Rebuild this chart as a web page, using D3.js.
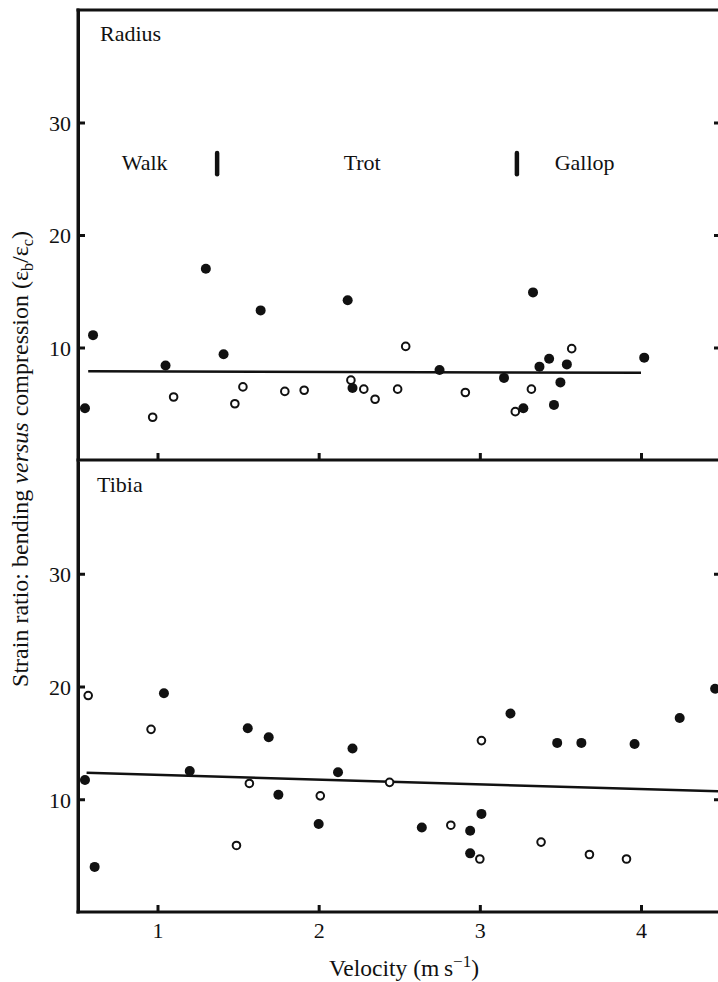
<!DOCTYPE html>
<html>
<head>
<meta charset="utf-8">
<script src="https://d3js.org/d3.v7.min.js"></script>
<style>
body { margin: 0; background: #fff; }
svg { display: block; }
text { font-family: "Liberation Serif", "Times New Roman", Times, serif; fill: #111; }
.axis path, .axis line { stroke: #111; stroke-width: 3; }
.axis text { font-size: 22px; font-family: "Liberation Serif", "Times New Roman", Times, serif; fill: #111; }
</style>
</head>
<body>
<script>
// velocity (m/s) and strain ratio values
var radiusFilledV = [0.55, 0.60, 1.05, 1.30, 1.41, 1.64, 2.18, 2.21, 2.75, 3.15, 3.27, 3.33, 3.37, 3.43, 3.46, 3.50, 3.54, 4.02];
var radiusFilledR = [4.6, 11.1, 8.4, 17.0, 9.4, 13.3, 14.2, 6.4, 8.0, 7.3, 4.6, 14.9, 8.3, 9.0, 4.9, 6.9, 8.5, 9.1];
var radiusOpenV = [0.97, 1.10, 1.48, 1.53, 1.79, 1.91, 2.20, 2.28, 2.35, 2.49, 2.54, 2.91, 3.22, 3.32, 3.57];
var radiusOpenR = [3.8, 5.6, 5.0, 6.5, 6.1, 6.2, 7.1, 6.3, 5.4, 6.3, 10.1, 6.0, 4.3, 6.3, 9.9];

var tibiaFilledV = [0.55, 0.61, 1.04, 1.20, 1.56, 1.69, 1.75, 2.00, 2.12, 2.21, 2.64, 2.94, 2.94, 3.01, 3.19, 3.48, 3.63, 3.96, 4.24, 4.46];
var tibiaFilledR = [11.7, 4.0, 19.4, 12.5, 16.3, 15.5, 10.4, 7.8, 12.4, 14.5, 7.5, 7.2, 5.2, 8.7, 17.6, 15.0, 15.0, 14.9, 17.2, 19.8];
var tibiaOpenV = [0.57, 0.96, 1.49, 1.57, 2.01, 2.44, 2.82, 3.00, 3.01, 3.38, 3.68, 3.91];
var tibiaOpenR = [19.2, 16.2, 5.9, 11.4, 10.3, 11.5, 7.7, 4.7, 15.2, 6.2, 5.1, 4.7];

// fitted lines: [v start, v end], [ratio start, ratio end]
var radiusFitV = [0.57, 4.0];
var radiusFitR = [7.9, 7.75];
var tibiaFitV = [0.56, 4.48];
var tibiaFitR = [12.35, 10.7];

// gait labels and boundaries
var gaitLabels = ["Walk", "Trot", "Gallop"];
var gaitLabelV = [0.92, 2.27, 3.65];
var gaitBreaksV = [1.37, 3.23];

var xTicks = [1, 2, 3, 4];
var yTicks = [10, 20, 30];

var W = 718, H = 982;
var left = 78, right = 720;

var svg = d3.select("body").append("svg")
  .attr("width", W)
  .attr("height", H);

var x = d3.scaleLinear().domain([1, 4]).range([157.5, 641]);

var panels = [
  { name: "Radius", top: 10, bottom: 460, fv: radiusFilledV, fr: radiusFilledR, ov: radiusOpenV, or: radiusOpenR, lv: radiusFitV, lr: radiusFitR, labelX: 100 },
  { name: "Tibia", top: 461, bottom: 912, fv: tibiaFilledV, fr: tibiaFilledR, ov: tibiaOpenV, or: tibiaOpenR, lv: tibiaFitV, lr: tibiaFitR, labelX: 97 }
];

panels.forEach(function(p, i) {
  var y = d3.scaleLinear().domain([0, 40]).range([p.bottom, p.top]);
  var g = svg.append("g");

  // left axis
  g.append("g")
    .attr("class", "axis")
    .attr("transform", "translate(" + left + ",0)")
    .call(d3.axisLeft(y).tickValues(yTicks).tickFormat(d3.format("d")).tickSizeInner(-7).tickSizeOuter(0).tickPadding(7))
    .call(function(a) { a.selectAll("text").attr("dy", "0.36em"); });

  // right ticks (axis line lies just off the page)
  g.append("g")
    .attr("class", "axis")
    .attr("transform", "translate(" + right + ",0)")
    .call(d3.axisRight(y).tickValues(yTicks).tickSizeInner(-6).tickSizeOuter(0).tickFormat(""));

  // bottom axis of the panel
  var xa = d3.axisBottom(x).tickValues(xTicks).tickFormat(d3.format("d")).tickSizeInner(-7).tickSizeOuter(0).tickPadding(10);
  if (i == 0) xa.tickFormat("");
  g.append("g")
    .attr("class", "axis")
    .attr("transform", "translate(0," + p.bottom + ")")
    .call(xa)
    .call(function(a) { a.select(".domain").remove(); });
  g.append("line")
    .attr("x1", left - 1.5).attr("x2", W)
    .attr("y1", p.bottom).attr("y2", p.bottom)
    .attr("stroke", "#111").attr("stroke-width", 3);

  // fitted line
  g.append("line")
    .attr("x1", x(p.lv[0])).attr("x2", x(p.lv[1]))
    .attr("y1", y(p.lr[0])).attr("y2", y(p.lr[1]))
    .attr("stroke", "#111").attr("stroke-width", 2.5);

  // filled points
  g.selectAll("circle.f")
    .data(p.fv)
    .enter().append("circle")
    .attr("class", "f")
    .attr("cx", function(d) { return x(d); })
    .attr("cy", function(d, k) { return y(p.fr[k]); })
    .attr("r", 5)
    .attr("fill", "#111");

  // open points
  g.selectAll("circle.o")
    .data(p.ov)
    .enter().append("circle")
    .attr("class", "o")
    .attr("cx", function(d) { return x(d); })
    .attr("cy", function(d, k) { return y(p.or[k]); })
    .attr("r", 3.8)
    .attr("fill", "#fff")
    .attr("stroke", "#111")
    .attr("stroke-width", 2);

  g.append("text")
    .attr("x", p.labelX)
    .attr("y", p.top + 31)
    .style("font-size", "22px")
    .text(p.name);

  if (i == 0) {
    g.selectAll("text.gait")
      .data(gaitLabels)
      .enter().append("text")
      .attr("class", "gait")
      .attr("x", function(d, k) { return x(gaitLabelV[k]); })
      .attr("y", 170)
      .attr("text-anchor", "middle")
      .style("font-size", "22px")
      .text(function(d) { return d; });

    g.selectAll("line.gait")
      .data(gaitBreaksV)
      .enter().append("line")
      .attr("class", "gait")
      .attr("x1", function(d) { return x(d); })
      .attr("x2", function(d) { return x(d); })
      .attr("y1", y(27.3)).attr("y2", y(25.4))
      .attr("stroke", "#111")
      .attr("stroke-width", 4.5)
      .attr("stroke-linecap", "round");
  }
});

// frame: top line and left spine
svg.append("line")
  .attr("x1", left - 1.5).attr("x2", W)
  .attr("y1", 10).attr("y2", 10)
  .attr("stroke", "#111").attr("stroke-width", 3);
svg.append("line")
  .attr("x1", left).attr("x2", left)
  .attr("y1", 8.5).attr("y2", 913.5)
  .attr("stroke", "#111").attr("stroke-width", 3);

// x label
var xl = svg.append("text")
  .attr("x", 404)
  .attr("y", 976)
  .attr("text-anchor", "middle")
  .style("font-size", "23.5px");
xl.append("tspan").text("Velocity (m\u2009s");
xl.append("tspan").attr("dy", -9).style("font-size", "17px").text("\u22121");
xl.append("tspan").attr("dy", 9).text(")");

// y label
var yl = svg.append("text")
  .attr("transform", "translate(28,459) rotate(-90)")
  .attr("text-anchor", "middle")
  .style("font-size", "24px");
yl.append("tspan").text("Strain ratio: bending ");
yl.append("tspan").style("font-style", "italic").text("versus");
yl.append("tspan").text(" compression (\u03b5");
yl.append("tspan").attr("dy", 5).style("font-size", "16px").text("b");
yl.append("tspan").attr("dy", -5).text("/\u03b5");
yl.append("tspan").attr("dy", 5).style("font-size", "16px").text("c");
yl.append("tspan").attr("dy", -5).text(")");
</script>
</body>
</html>
